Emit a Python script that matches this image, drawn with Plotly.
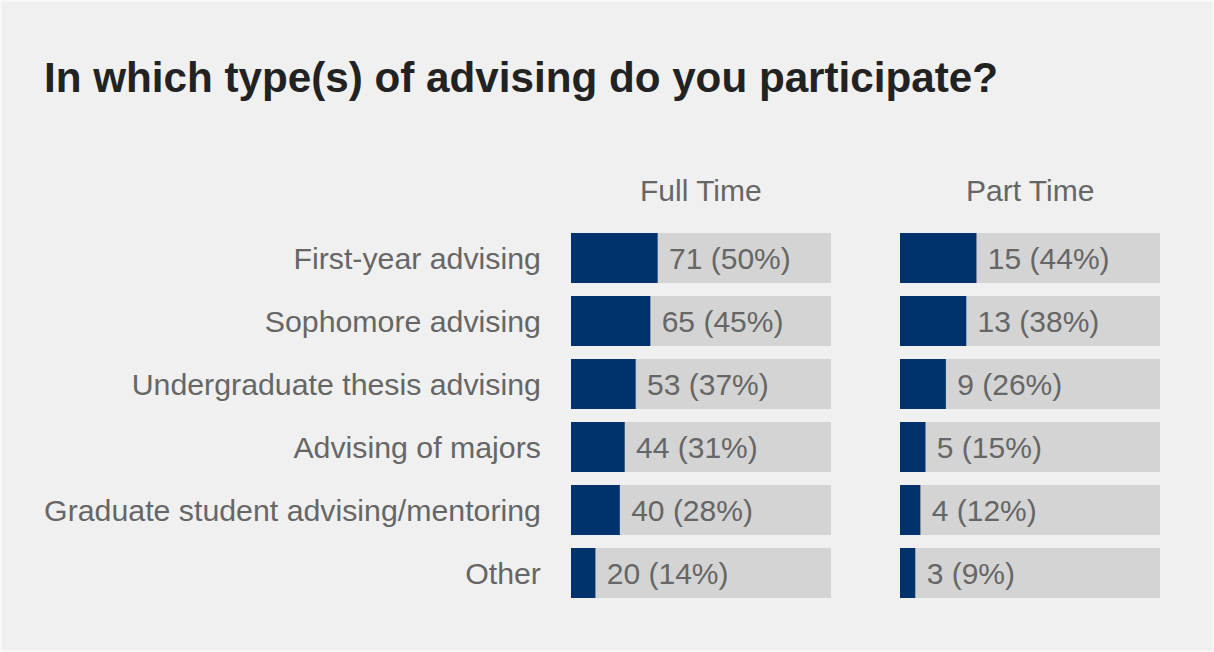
import plotly.graph_objects as go
from plotly.subplots import make_subplots

categories = ["First-year advising", "Sophomore advising", "Undergraduate thesis advising",
              "Advising of majors", "Graduate student advising/mentoring", "Other"]
full_time_counts = [71, 65, 53, 44, 40, 20]
full_time_pcts = [50, 45, 37, 31, 28, 14]
part_time_counts = [15, 13, 9, 5, 4, 3]
part_time_pcts = [44, 38, 26, 15, 12, 9]
full_time_total = 142
part_time_total = 34
panel_titles = ["Full Time", "Part Time"]
title_text = "In which type(s) of advising do you participate?"

SCALE = 1.5
W, H = 1214, 652
FONT = "Liberation Sans, Arial, sans-serif"
NAVY = "#00336b"
GRAY_BAR = "#d4d4d4"
TEXT_GRAY = "#666666"
BG = "#f0f0f0"

fig = make_subplots(rows=1, cols=2, shared_yaxes=True)

panels = [
    (full_time_counts, full_time_pcts, full_time_total, 1),
    (part_time_counts, part_time_pcts, part_time_total, 2),
]
for counts, pcts, total, col in panels:
    xmax = SCALE * total
    fig.add_trace(go.Bar(
        y=categories, x=[xmax] * len(categories), orientation="h",
        marker=dict(color=GRAY_BAR, line=dict(width=0)), width=0.79,
        hoverinfo="skip", showlegend=False), row=1, col=col)
    fig.add_trace(go.Bar(
        y=categories, x=counts, orientation="h",
        marker=dict(color=NAVY, line=dict(width=0)), width=0.79,
        text=[f" {c} ({p}%)" for c, p in zip(counts, pcts)],
        textposition="outside", textfont=dict(family=FONT, size=30, color=TEXT_GRAY),
        cliponaxis=False, showlegend=False), row=1, col=col)
    fig.update_xaxes(range=[0, xmax], visible=False, fixedrange=True, row=1, col=col)

dom1 = [571 / W, 831 / W]
dom2 = [900 / W, 1160 / W]
ydom = [47.5 / H, 1 - 226.5 / H]

fig.update_layout(
    width=W, height=H, barmode="overlay",
    paper_bgcolor=BG, plot_bgcolor=BG,
    margin=dict(l=0, r=0, t=0, b=0),
    font=dict(family=FONT, color=TEXT_GRAY),
    xaxis=dict(domain=dom1),
    xaxis2=dict(domain=dom2),
    yaxis=dict(domain=ydom, autorange="reversed", showgrid=False, zeroline=False,
               showline=False, ticks="outside", ticklen=23, tickcolor="rgba(0,0,0,0)",
               tickfont=dict(family=FONT, size=30.3, color=TEXT_GRAY)),
    yaxis2=dict(domain=ydom, showgrid=False, zeroline=False, showticklabels=False),
    title=dict(text=f"<b>{title_text}</b>", x=44 / W, xanchor="left", xref="paper",
               y=1 - 77 / H, yanchor="middle", yref="container",
               font=dict(family=FONT, size=42.2, color="#222222")),
    bargap=0.2,
)

for name, dom in zip(panel_titles, [dom1, dom2]):
    fig.add_annotation(text=name, x=(dom[0] + dom[1]) / 2, xref="paper", xanchor="center",
                       y=1 - 190 / H, yref="paper", yanchor="middle", showarrow=False,
                       font=dict(family=FONT, size=30, color=TEXT_GRAY))

fig.add_shape(type="rect", xref="paper", yref="paper", x0=0, x1=1, y0=0, y1=1,
              line=dict(color="#fafafa", width=3), fillcolor="rgba(0,0,0,0)", layer="below")

fig.write_html("out.html", config={"displayModeBar": False},
               post_script="document.body.style.margin='0';document.body.style.overflow='hidden';")
